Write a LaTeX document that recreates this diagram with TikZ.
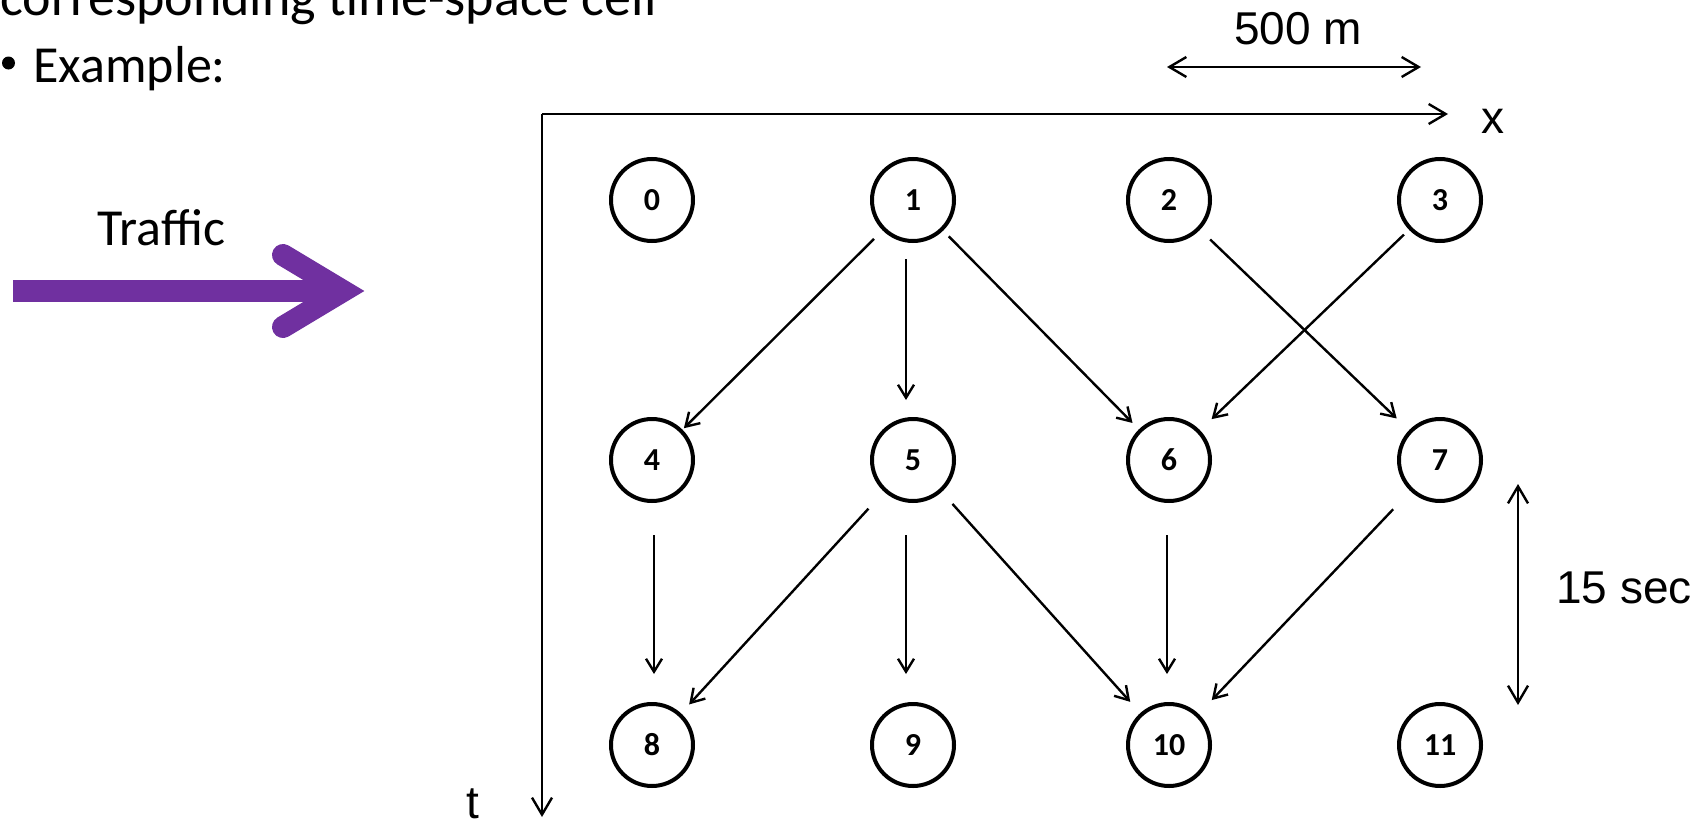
\documentclass[tikz,border=0pt]{standalone}
\usepackage{fontspec}
\setmainfont{Carlito}
\newfontfamily\arialfont{Liberation Sans}
\usetikzlibrary{arrows.meta}
\definecolor{trafficpurple}{HTML}{7030A0}
\begin{document}
\begin{tikzpicture}[x=0.5pt,y=-0.5pt,
  cell/.style={circle, draw, line width=2pt, minimum size=41pt, inner sep=0pt,
    font=\fontsize{16pt}{16pt}\selectfont\bfseries},
  edge/.style={line width=1.2pt, -{Straight Barb[length=6.5pt,width=8pt]}},
  axis/.style={line width=1.2pt},
  axtip/.tip={Straight Barb[length=8.5pt,width=10pt]},
  traffic/.style={line width=11pt, draw=trafficpurple},
  bodytext/.style={anchor=base west, inner sep=0pt, font=\fontsize{26pt}{26pt}\selectfont},
  unitlabel/.style={anchor=base, inner sep=0pt, font=\arialfont\fontsize{23pt}{23pt}\selectfont}]
\fill[white] (0,0) rectangle (1708,819);
\useasboundingbox (0,0) rectangle (1708,819);

% slide text
\node[anchor=base west, inner sep=0pt, font=\fontsize{27pt}{27pt}\selectfont] (heading) at (0,15) {corresponding time-space cell};
\node[circle, fill=black, inner sep=0pt, minimum size=6.5pt] (bullet) at (8.5,63) {};
\node[bodytext] (example) at (33,82) {Example:};
\node[bodytext] (traffictext) at (97,245) {Traffic};

% traffic arrow
\coordinate (tS) at (13,291);
\coordinate (tE) at (340,291);
\coordinate (hT) at (283,255);
\coordinate (hV) at (343,291);
\coordinate (hB) at (283,327);
\draw[traffic] (tS) -- (tE);
\draw[traffic, line cap=round, line join=miter] (hT) -- (hV) -- (hB);

% axes
\coordinate (origin) at (542,114);
\coordinate (xend) at (1448,114);
\coordinate (tend) at (542,817);
\draw[axis, -axtip] (origin) -- (xend);
\draw[axis, -axtip] (origin) -- (tend);
\node[unitlabel] (xlab) at (1493,133) {x};
\node[unitlabel] (tlab) at (473,818) {t};

% scale bars
\coordinate (mL) at (1167,67);
\coordinate (mR) at (1421,67);
\draw[axis, axtip-axtip] (mL) -- (mR);
\node[unitlabel] (mlab) at (1298,44) {500 m};
\coordinate (sT) at (1518,484);
\coordinate (sB) at (1518,705);
\draw[axis, axtip-axtip] (sT) -- (sB);
\node[unitlabel, anchor=base west] (slab) at (1556,603) {15 sec};

% cells
\node[cell] (n0) at (652,200) {0};
\node[cell] (n1) at (913,200) {1};
\node[cell] (n2) at (1169,200) {2};
\node[cell] (n3) at (1440,200) {3};
\node[cell] (n4) at (652,460) {4};
\node[cell] (n5) at (913,460) {5};
\node[cell] (n6) at (1169,460) {6};
\node[cell] (n7) at (1440,460) {7};
\node[cell] (n8) at (652,745) {8};
\node[cell] (n9) at (913,745) {9};
\node[cell] (n10) at (1169,745) {10};
\node[cell] (n11) at (1440,745) {11};

% connections
\draw[edge, shorten <=6pt, shorten >=1pt] (n1) -- (n4);
\draw[edge, shorten <=8pt, shorten >=8.5pt] ([xshift=-3.5pt]n1.south) -- ([xshift=-3.5pt]n5.north);
\draw[edge, shorten <=4pt, shorten >=4.5pt] (n1) -- (n6);
\draw[edge, shorten <=7pt, shorten >=8.5pt] (n2) -- (n7);
\draw[edge, shorten <=3.5pt, shorten >=8pt] (n3) -- (n6);
\draw[edge, shorten <=16pt, shorten >=14pt] ([xshift=1pt]n4.south) -- ([xshift=1pt]n8.north);
\draw[edge, shorten <=11.5pt, shorten >=6pt] (n5) -- (n8);
\draw[edge, shorten <=16pt, shorten >=14pt] ([xshift=-3.5pt]n5.south) -- ([xshift=-3.5pt]n9.north);
\draw[edge, shorten <=8pt, shorten >=7.5pt] (n5) -- (n10);
\draw[edge, shorten <=16pt, shorten >=14pt] ([xshift=-1pt]n6.south) -- ([xshift=-1pt]n10.north);
\draw[edge, shorten <=12.5pt, shorten >=9.5pt] (n7) -- (n10);
\end{tikzpicture}
\end{document}
